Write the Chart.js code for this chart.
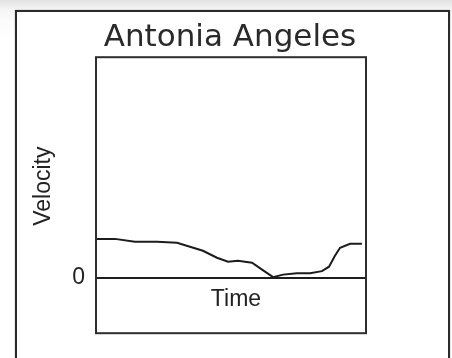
<!DOCTYPE html>
<html>
<head>
<meta charset="utf-8">
<script src="https://cdn.jsdelivr.net/npm/chart.js@4.4.0/dist/chart.umd.min.js"></script>
<style>
  html, body { margin: 0; padding: 0; }
  body {
    width: 452px; height: 358px; overflow: hidden; position: relative;
    background: linear-gradient(to bottom, #e2e2e2 0, #f4f4f4 9px, #fbfbfb 20px, #fff 40px);
  }
  #frame {
    position: absolute; left: 15px; top: 10px; width: 431px; height: 400px;
    border: 2px solid #2b2b2b; background: #fff; box-shadow: 0 0 1px #777;
  }
  #chart { position: absolute; left: 0; top: 0; }
</style>
</head>
<body>
<div id="frame"></div>
<canvas id="chart" width="452" height="358"></canvas>
<script>
// velocity trace (time in % of the window, velocity in arbitrary units)
var time_pts = [0, 7.0, 14.4, 22.6, 30.0, 34.8, 39.6, 44.8, 48.9, 52.6, 57.8, 61.5, 65.6, 69.3, 74.4, 79.3, 83.7, 86.3, 88.5, 90.4, 94.1, 98.5];
var velocity_pts = [3.9, 3.9, 3.6, 3.6, 3.5, 3.1, 2.7, 2.0, 1.6, 1.7, 1.5, 0.8, 0.05, 0.3, 0.45, 0.45, 0.65, 1.1, 2.2, 3.0, 3.4, 3.4];
var yTicks = [0];
var chartTitle = "Antonia Angeles";
var xTitle = "Time";
var yTitle = "Velocity";

var points = time_pts.map(function (t, i) {
  return { x: t, y: velocity_pts[i] };
});

const labelFont = "23px 'Liberation Sans', sans-serif";

// plot frame + axis names
const framePlugin = {
  id: "frame",
  afterDraw(chart) {
    const ctx = chart.ctx;
    const a = chart.chartArea;
    ctx.save();
    ctx.strokeStyle = "#2e2e2e";
    ctx.lineWidth = 2;
    ctx.strokeRect(a.left, a.top, a.right - a.left, a.bottom - a.top);

    ctx.fillStyle = "#222";
    ctx.font = labelFont;
    ctx.textAlign = "center";
    ctx.textBaseline = "alphabetic";
    const zeroY = chart.scales.y.getPixelForValue(0);
    ctx.fillText(xTitle, (a.left + a.right) / 2 + 5, zeroY + 28);

    ctx.translate(a.left - 46.5, (a.top + a.bottom) / 2 - 9);
    ctx.rotate(-Math.PI / 2);
    ctx.fillText(yTitle, 0, 0);
    ctx.restore();
  },
};

const data_vel = {
  datasets: [
    {
      label: yTitle,
      data: points,
      borderColor: "#1c1c1c",
      borderWidth: 2,
      pointRadius: 0,
      tension: 0,
      fill: false,
    },
  ],
};

const config_vel = {
  type: "line",
  data: data_vel,
  options: {
    responsive: false,
    animation: false,
    layout: {
      padding: { left: 8, right: 0, top: 0, bottom: 23 },
    },
    scales: {
      x: {
        type: "linear",
        min: 0,
        max: 100,
        display: false,
      },
      y: {
        type: "linear",
        position: "left",
        min: -5.6,
        max: 22.2,
        afterFit: (s) => { s.width = 88; },
        afterBuildTicks: (s) => { s.ticks = yTicks.map((v) => ({ value: v })); },
        grid: { color: "#1e1e1e", lineWidth: 2, drawTicks: false },
        border: { display: false },
        ticks: {
          padding: 11,
          color: "#222",
          font: { family: "'Liberation Sans', sans-serif", size: 23 },
        },
      },
      y2: {
        type: "linear",
        position: "right",
        afterFit: (s) => { s.width = 86; },
        grid: { display: false },
        border: { display: false },
        ticks: { display: false },
      },
    },
    plugins: {
      title: {
        display: true,
        text: chartTitle,
        color: "#2a2a2a",
        font: { family: "'DejaVu Sans', sans-serif", size: 31, weight: "normal", lineHeight: 1.2 },
        padding: { top: 19, bottom: 1 },
      },
      legend: { display: false },
      tooltip: { enabled: false },
    },
  },
  plugins: [framePlugin],
};

const velChart = new Chart(document.getElementById("chart"), config_vel);
</script>
</body>
</html>
